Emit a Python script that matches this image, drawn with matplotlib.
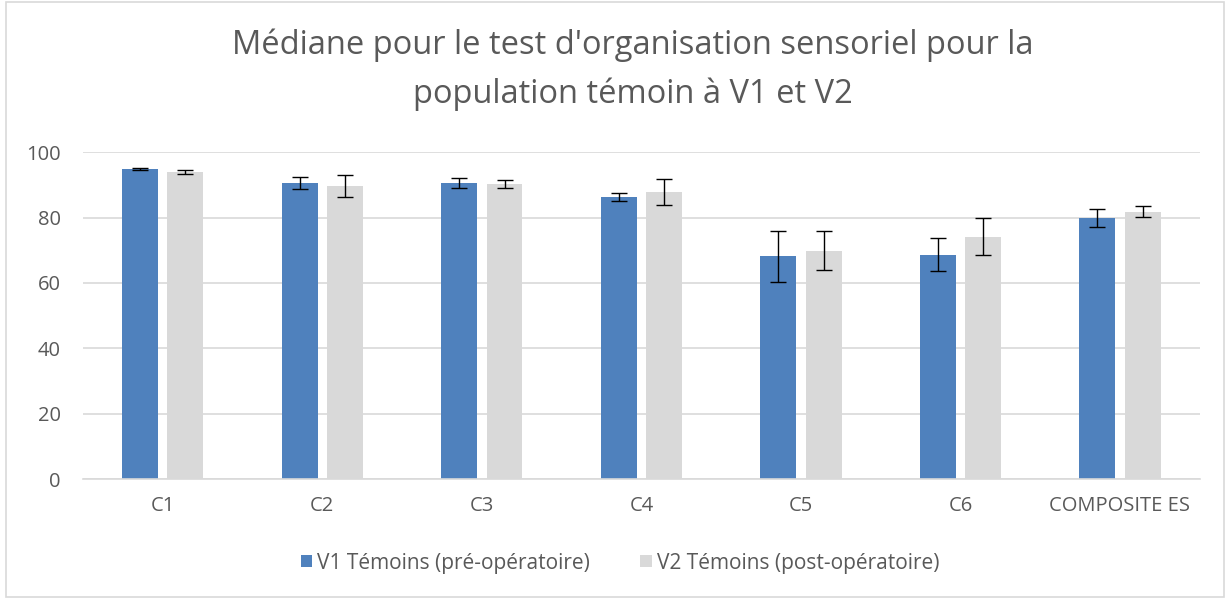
import numpy as np
import matplotlib.pyplot as plt
from matplotlib.patches import Rectangle

plt.rcParams['font.family'] = ['Open Sans', 'DejaVu Sans']

# donnees
categories = ["C1", "C2", "C3", "C4", "C5", "C6", "COMPOSITE ES"]
v1 = [94.8, 90.5, 90.5, 86.3, 68.2, 68.7, 79.9]
v2 = [94.0, 89.6, 90.2, 87.7, 69.9, 74.2, 81.8]
err_v1 = [0.3, 1.9, 1.5, 1.3, 7.8, 5.0, 2.7]
err_v2 = [0.6, 3.3, 1.2, 4.0, 6.0, 5.6, 1.7]
labels = ["V1 Témoins (pré-opératoire)", "V2 Témoins (post-opératoire)"]
titre = "Médiane pour le test d'organisation sensoriel pour la\npopulation témoin à V1 et V2"

bleu = "#4f81bd"
gris = "#d9d9d9"
texte = "#595959"

fig = plt.figure(figsize=(12.28, 5.99), dpi=100)
ax = fig.add_axes([0.0676, 0.2, 0.9094, 0.546])

x = np.arange(len(categories))
w = 0.225
ax.bar(x - 0.142, v1, w, color=bleu, label=labels[0], zorder=2)
ax.bar(x + 0.142, v2, w, color=gris, label=labels[1], zorder=2)
ax.errorbar(x - 0.142, v1, yerr=err_v1, fmt="none", ecolor="black",
            elinewidth=1, capsize=6, capthick=1, zorder=3)
ax.errorbar(x + 0.142, v2, yerr=err_v2, fmt="none", ecolor="black",
            elinewidth=1, capsize=6, capthick=1, zorder=3)

ax.set_xlim(-0.5, len(categories) - 0.5)
ax.set_ylim(0, 100)
ax.set_yticks(range(0, 101, 20))
ax.set_xticks(x)
ax.set_xticklabels(categories)
ax.yaxis.grid(True, color=gris, linewidth=1.2, zorder=0)
ax.set_axisbelow(True)
for s in ["top", "right", "left"]:
    ax.spines[s].set_visible(False)
ax.spines["bottom"].set_color(gris)
ax.spines["bottom"].set_linewidth(1.2)
ax.tick_params(length=0, labelsize=14.5, colors=texte)
ax.tick_params(axis="x", pad=12)
ax.tick_params(axis="y", pad=16)

fig.suptitle(titre, fontsize=23.5, color=texte, x=0.515, y=0.952, linespacing=1.6)

fig.legend(loc="center", bbox_to_anchor=(0.505, 0.06), ncol=2, frameon=False,
           fontsize=15, labelcolor=texte, handlelength=0.55, handleheight=0.55,
           handletextpad=0.25, columnspacing=2.4)

# cadre du graphique
fig.patches.append(Rectangle((0.005, 0.003), 0.992, 0.994, transform=fig.transFigure,
                             fill=False, edgecolor=gris, linewidth=1.2))

plt.savefig("out.png", dpi=100)
